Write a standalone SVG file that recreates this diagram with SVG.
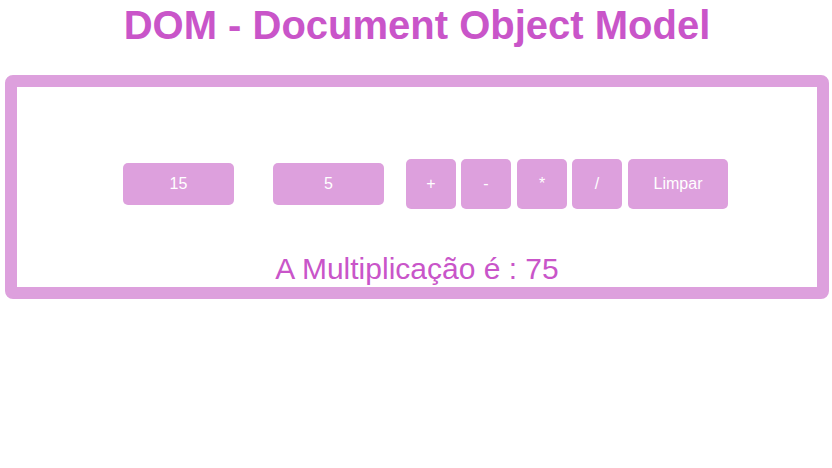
<svg xmlns="http://www.w3.org/2000/svg" width="832" height="468" viewBox="0 0 832 468">
<style>
.t{font-family:"Liberation Sans",Arial,sans-serif;text-anchor:middle}
.title{font-size:40px;font-weight:bold;fill:#C955C9}
.res{font-size:30px;fill:#C955C9}
.btn{fill:#DDA0DD}
.bt{font-size:16px;fill:#ffffff}
.it{font-size:16px;fill:#ffffff}
</style>
<rect width="832" height="468" fill="#ffffff"/>
<g id="title"><text class="t title" x="417" y="39">DOM - Document Object Model</text></g>
<g id="panel"><rect x="11" y="81" width="812" height="212" rx="2" fill="none" stroke="#DDA0DD" stroke-width="12"/></g>
<g id="input1"><rect class="btn" x="123" y="163" width="111" height="42" rx="5"/><text class="t it" x="178.5" y="189">15</text></g>
<g id="input2"><rect class="btn" x="273" y="163" width="111" height="42" rx="5"/><text class="t it" x="328.5" y="189">5</text></g>
<g id="btn-add"><rect class="btn" x="406" y="159" width="50" height="50" rx="5"/><text class="t bt" x="431" y="189">+</text></g>
<g id="btn-sub"><rect class="btn" x="461" y="159" width="50" height="50" rx="5"/><text class="t bt" x="486" y="189">-</text></g>
<g id="btn-mul"><rect class="btn" x="517" y="159" width="50" height="50" rx="5"/><text class="t bt" x="542" y="189">*</text></g>
<g id="btn-div"><rect class="btn" x="572" y="159" width="50" height="50" rx="5"/><text class="t bt" x="597" y="189">/</text></g>
<g id="btn-clear"><rect class="btn" x="628" y="159" width="100" height="50" rx="5"/><text class="t bt" x="678" y="189">Limpar</text></g>
<g id="result"><text class="t res" x="417" y="279">A Multiplicação é : 75</text></g>
<g id="connectors"></g>
</svg>
